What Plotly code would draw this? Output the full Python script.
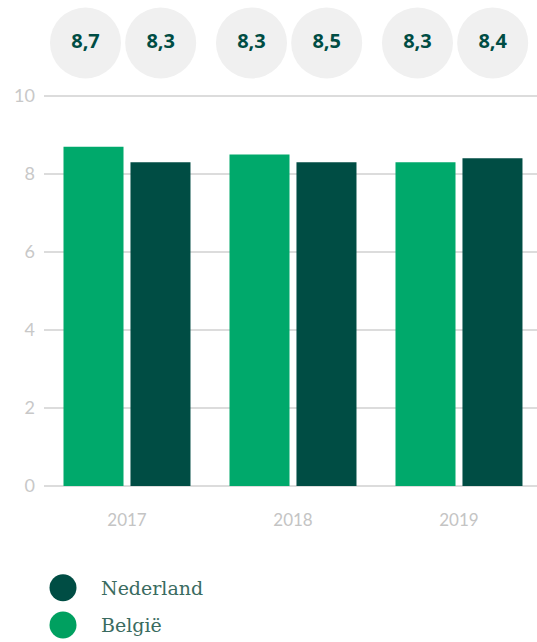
import plotly.graph_objects as go

years = ["2017", "2018", "2019"]
belgie = [8.7, 8.5, 8.3]
nederland = [8.3, 8.3, 8.4]
circle_left = ["8,7", "8,3", "8,3"]
circle_right = ["8,3", "8,5", "8,4"]
y_ticks = [0, 2, 4, 6, 8, 10]

LIGHT = "#00a96b"
DARK = "#004d44"
H = 642
x_idx = list(range(len(years)))

fig = go.Figure()
fig.add_trace(go.Bar(x=x_idx, y=belgie, name="België", marker_color=LIGHT,
                     marker_line_width=0, hoverinfo="skip"))
fig.add_trace(go.Bar(x=x_idx, y=nederland, name="Nederland", marker_color=DARK,
                     marker_line_width=0, hoverinfo="skip"))

# value circles in a band above the plot (own y axis)
for off, labels in ((-0.25, circle_left), (0.203, circle_right)):
    fig.add_trace(go.Scatter(
        x=[i + off for i in x_idx], y=[0.543] * len(x_idx), yaxis="y2",
        mode="markers+text", text=labels, textposition="middle center",
        marker=dict(size=71, color="#f0f0f0", line_width=0),
        textfont=dict(family="Open Sans", size=20, color=DARK, weight="bold"),
        cliponaxis=False, showlegend=False, hoverinfo="skip"))

y_bottom = (H - 486) / H
y_top = (H - 94) / H

fig.update_layout(
    width=537, height=H,
    margin=dict(l=44, r=0, t=0, b=0, autoexpand=False),
    paper_bgcolor="white", plot_bgcolor="white",
    barmode="group", bargap=0.193, bargroupgap=0.104,
    showlegend=False,
    xaxis=dict(range=[-0.5, 2.47], tickvals=x_idx, ticktext=years,
               showgrid=False, zeroline=False, showline=False, ticks="",
               ticklabelstandoff=22,
               tickfont=dict(family="Lato", size=17, color="#c4c4c4")),
    yaxis=dict(range=[0, 10.05], domain=[y_bottom, y_top], tickvals=y_ticks,
               showgrid=True, gridcolor="#dcdcdc", gridwidth=2,
               zeroline=True, zerolinecolor="#dcdcdc", zerolinewidth=2,
               showline=False, ticks="", ticklabelstandoff=8,
               tickfont=dict(family="Lato", size=18, color="#c8c8c8")),
    yaxis2=dict(range=[0, 1], domain=[y_top, 1], anchor="x", visible=False,
                fixedrange=True),
)

# custom legend (Nederland first, then België)
legend_items = [("Nederland", DARK, 587.7), ("België", "#00a060", 625)]
for name, col, py in legend_items:
    yp = (H - py) / H
    fig.add_shape(type="circle", xref="paper", yref="paper",
                  xsizemode="pixel", ysizemode="pixel",
                  xanchor=(63 - 44) / 493, yanchor=yp,
                  x0=-13.5, x1=13.5, y0=-13.5, y1=13.5,
                  fillcolor=col, line_width=0)
    fig.add_annotation(text=name, xref="paper", yref="paper",
                       x=(99 - 44) / 493, y=yp, xanchor="left", yanchor="middle",
                       showarrow=False,
                       font=dict(family="DejaVu Serif", size=19, color="#3a6b60"))

fig.write_html("out.html")
